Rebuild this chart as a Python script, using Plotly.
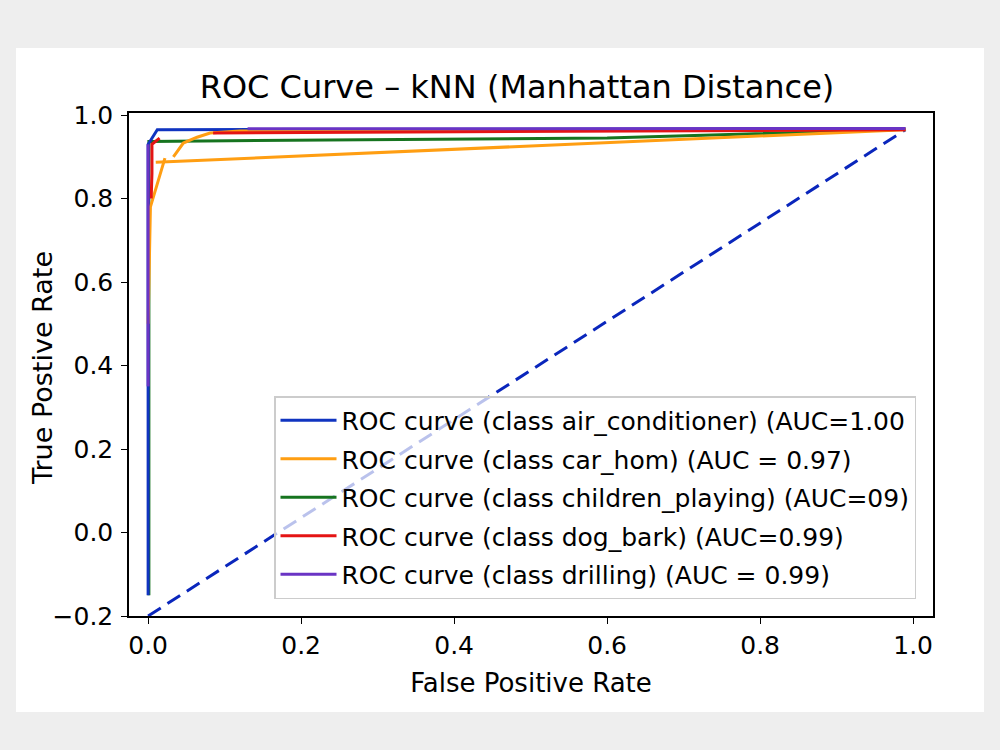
import plotly.graph_objects as go

# ---- data ----
blue_fpr = [0.0, 0.0, 0.012, 0.99]
blue_tpr = [-0.15, 0.93, 0.965, 0.967]

orange_fpr = [0.0, 0.003, 0.022, None, 0.010, 0.99, None, 0.033, 0.046, 0.064, 0.081, 0.12, 0.99]
orange_tpr = [0.5, 0.78, 0.897, None, 0.887, 0.965, None, 0.90, 0.933, 0.947, 0.957, 0.962, 0.966]

green_fpr = [0.001, 0.001, 0.6, 0.99]
green_tpr = [-0.15, 0.937, 0.945, 0.966]

red_fpr = [0.004, 0.005, 0.005, 0.015, None, 0.085, 0.99]
red_tpr = [0.80, 0.86, 0.93, 0.945, None, 0.957, 0.965]

purple_fpr = [0.0, 0.0, None, 0.13, 0.99]
purple_tpr = [0.35, 0.93, None, 0.967, 0.968]

diag_fpr = [0.0, 0.99]
diag_tpr = [-0.2, 0.965]

labels = [
    "ROC curve (class air_conditioner) (AUC=1.00",
    "ROC curve (class car_hom) (AUC = 0.97)",
    "ROC curve (class children_playing) (AUC=09)",
    "ROC curve (class dog_bark) (AUC=0.99)",
    "ROC curve (class drilling) (AUC = 0.99)",
]
colors = ["#1034c0", "#ff9e12", "#16741f", "#e41414", "#6a34c4"]
series = [(blue_fpr, blue_tpr), (orange_fpr, orange_tpr), (green_fpr, green_tpr),
          (red_fpr, red_tpr), (purple_fpr, purple_tpr)]
draw_order = [2, 0, 1, 3, 4]

x_ticks = [0.0, 0.2, 0.4, 0.6, 0.8, 1.0]
y_ticks = [-0.2, 0.0, 0.2, 0.4, 0.6, 0.8, 1.0]

FONT = "DejaVu Sans"

fig = go.Figure()
fig.add_trace(go.Scatter(x=diag_fpr, y=diag_tpr, mode="lines", showlegend=False,
                         line=dict(color="#0a26bc", width=3, dash="15px,8px")))
for i in draw_order:
    fx, fy = series[i]
    fig.add_trace(go.Scatter(x=fx, y=fy, mode="lines", name=labels[i], legendgroup=f"g{i}",
                             legendrank=i + 1, line=dict(color=colors[i], width=3)))

L, R, T, B = 129, 67, 113, 134
W, H = 1000 - L - R, 750 - T - B

fig.add_shape(type="rect", xref="paper", yref="paper",
              x0=(16 - L) / W, x1=(984 - L) / W,
              y0=(616 - 712) / H, y1=(616 - 48) / H,
              fillcolor="white", line=dict(width=0), layer="below")

fig.add_annotation(text="True Postive Rate", xref="paper", yref="paper",
                   x=(42 - L) / W, y=(616 - 368) / H, xanchor="center", yanchor="middle",
                   textangle=-90, showarrow=False,
                   font=dict(family=FONT, size=27, color="black"))

fig.update_layout(
    width=1000, height=750,
    margin=dict(l=L, r=R, t=T, b=B),
    paper_bgcolor="#eeeeee",
    plot_bgcolor="white",
    font=dict(family=FONT, color="black", size=26),
    title=dict(text="ROC Curve – kNN (Manhattan Distance)", x=(517 - L) / W, xref="paper",
               xanchor="center", y=1 - 87 / 750, yanchor="middle",
               font=dict(family=FONT, size=32, color="black")),
    xaxis=dict(range=[-0.025, 1.026], tickvals=x_ticks, tickformat=".1f",
               showgrid=False, zeroline=False, showline=True, mirror=True,
               linecolor="black", linewidth=1.5, ticks="outside", ticklen=6,
               tickcolor="black", tickfont=dict(size=25),
               title=dict(text="False Positive Rate", font=dict(size=26), standoff=15)),
    yaxis=dict(range=[-0.2, 1.005], tickvals=y_ticks, tickformat=".1f",
               showgrid=False, zeroline=False, showline=True, mirror=True,
               linecolor="black", linewidth=1.5, ticks="outside", ticklen=6,
               tickcolor="black", tickfont=dict(size=25), ticklabelstandoff=3),
    legend=dict(x=(274 - L) / W, y=(616 - 396) / H, xanchor="left", yanchor="top",
                bgcolor="rgba(255,255,255,0.72)", bordercolor="#cccccc", borderwidth=1.5,
                font=dict(family=FONT, size=25, color="black"),
                tracegroupgap=3, itemwidth=56),
)

fig.write_html("out.html")
